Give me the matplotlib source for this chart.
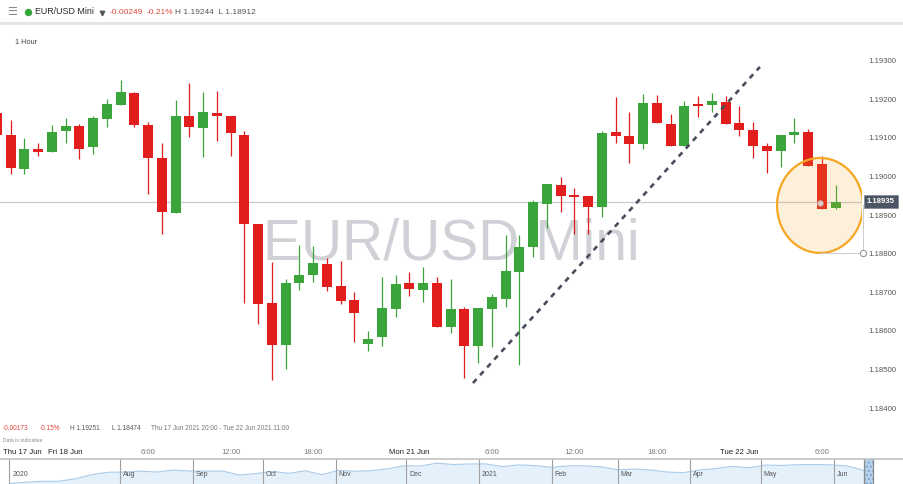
import numpy as np
import pandas as pd
import matplotlib
matplotlib.use("Agg")
import matplotlib.pyplot as plt
import matplotlib.dates as mdates
import matplotlib.transforms as mtransforms
from matplotlib.patches import Ellipse, Rectangle
from matplotlib.lines import Line2D

plt.rcParams['font.family'] = ['Liberation Sans', 'DejaVu Sans']

# hourly candles, index 0 = Thu 17 Jun 2021 20:00 (index -1 is cut at the left edge)
candle_idx = list(range(-1, 61))
opens = [1.19164, 1.19108, 1.19020, 1.19071, 1.19063, 1.19117, 1.19130, 1.19077, 1.19149, 1.19184,
         1.19217, 1.19134, 1.19049, 1.18906, 1.19157, 1.19126, 1.19165, 1.19157, 1.19108, 1.18877,
         1.18672, 1.18563, 1.18723, 1.18745, 1.18773, 1.18716, 1.18680, 1.18566, 1.18585, 1.18658,
         1.18723, 1.18706, 1.18723, 1.18611, 1.18656, 1.18561, 1.18658, 1.18683, 1.18752, 1.18817,
         1.18929, 1.18978, 1.18952, 1.18950, 1.18922, 1.19115, 1.19105, 1.19084, 1.19190, 1.19136,
         1.19079, 1.19186, 1.19185, 1.19194, 1.19138, 1.19120, 1.19080, 1.19066, 1.19108, 1.19116,
         1.19032, 1.18918]
highs = [1.19172, 1.19146, 1.19100, 1.19088, 1.19133, 1.19152, 1.19135, 1.19157, 1.19200, 1.19251,
         1.19220, 1.19141, 1.19088, 1.19198, 1.19241, 1.19220, 1.19222, 1.19157, 1.19119, 1.18877,
         1.18779, 1.18734, 1.18823, 1.18820, 1.18790, 1.18782, 1.18702, 1.18601, 1.18739, 1.18745,
         1.18753, 1.18766, 1.18739, 1.18734, 1.18661, 1.18659, 1.18696, 1.18848, 1.18848, 1.18939,
         1.18981, 1.18998, 1.18969, 1.18950, 1.19118, 1.19207, 1.19168, 1.19214, 1.19211, 1.19162,
         1.19196, 1.19209, 1.19216, 1.19209, 1.19183, 1.19142, 1.19088, 1.19108, 1.19151, 1.19122,
         1.19053, 1.18978]
lows = [1.19100, 1.19006, 1.19006, 1.19053, 1.19063, 1.19088, 1.19045, 1.19058, 1.19129, 1.19184,
        1.19128, 1.18955, 1.18851, 1.18906, 1.19103, 1.19051, 1.19093, 1.19053, 1.18673, 1.18617,
        1.18474, 1.18501, 1.18706, 1.18727, 1.18703, 1.18669, 1.18572, 1.18549, 1.18561, 1.18637,
        1.18690, 1.18676, 1.18611, 1.18595, 1.18477, 1.18518, 1.18559, 1.18663, 1.18512, 1.18791,
        1.18866, 1.18909, 1.18850, 1.18850, 1.18896, 1.19088, 1.19036, 1.19070, 1.19138, 1.19079,
        1.19079, 1.19153, 1.19168, 1.19136, 1.19105, 1.19047, 1.19008, 1.19024, 1.19086, 1.19027,
        1.18915, 1.18915]
closes = [1.19108, 1.19023, 1.19071, 1.19063, 1.19115, 1.19130, 1.19072, 1.19152, 1.19188, 1.19219,
          1.19133, 1.19048, 1.18909, 1.19157, 1.19129, 1.19168, 1.19157, 1.19112, 1.18876, 1.18669,
          1.18563, 1.18723, 1.18744, 1.18775, 1.18715, 1.18678, 1.18646, 1.18578, 1.18659, 1.18722,
          1.18708, 1.18723, 1.18611, 1.18656, 1.18561, 1.18659, 1.18687, 1.18755, 1.18818, 1.18933,
          1.18981, 1.18950, 1.18946, 1.18922, 1.19112, 1.19105, 1.19084, 1.19190, 1.19138, 1.19079,
          1.19183, 1.19183, 1.19196, 1.19136, 1.19120, 1.19079, 1.19066, 1.19108, 1.19116, 1.19027,
          1.18915, 1.18935]
last_price = 1.18935

y_ticks = [1.184, 1.185, 1.186, 1.187, 1.188, 1.189, 1.190, 1.191, 1.192, 1.193]
time_idx = [4, 10, 16, 22, 29, 35, 41, 47, 53, 59]
time_labels = ["Fri 18 Jun", "6:00", "12:00", "18:00", "Mon 21 Jun",
               "6:00", "12:00", "18:00", "Tue 22 Jun", "6:00"]

# drawn annotations
trend_x = [33.62, 54.49]
trend_y = [1.18465, 1.19284]
circle_center = (58.86, 1.18925)
circle_size = (6.25, 0.00246)

# navigator: weekly EUR/USD from 15 Jun 2020
nav_vals = [1.1180, 1.1250, 1.1300, 1.1300, 1.1430, 1.1650, 1.1780, 1.1790, 1.1840, 1.1790,
            1.1900, 1.1840, 1.1840, 1.1840, 1.1630, 1.1710, 1.1830, 1.1720, 1.1860, 1.1650,
            1.1880, 1.1830, 1.1860, 1.1960, 1.2120, 1.2110, 1.2260, 1.2190, 1.2220, 1.2220,
            1.2080, 1.2170, 1.2130, 1.2040, 1.2120, 1.2120, 1.2070, 1.1910, 1.1950, 1.1900,
            1.1790, 1.1760, 1.1900, 1.1980, 1.2090, 1.2020, 1.2160, 1.2140, 1.2180, 1.2190,
            1.2170, 1.2110, 1.1870]
nav_dates = pd.date_range("2020-06-15", periods=len(nav_vals), freq="7D")
nav_month_dates = pd.to_datetime(["2020-06-15", "2020-08-01", "2020-09-01", "2020-10-01",
                                  "2020-11-01", "2020-12-01", "2021-01-01", "2021-02-01",
                                  "2021-03-01", "2021-04-01", "2021-05-01", "2021-06-01"])
nav_month_labels = ["2020", "Aug", "Sep", "Oct", "Nov", "Dec", "2021", "Feb", "Mar", "Apr", "May", "Jun"]

RED = '#e21d1d'
GREEN = '#3aa53a'
W, H = 904, 484


def fx(px):
    return px / W


def fy(py):
    return 1 - py / H


fig = plt.figure(figsize=(W / 100, H / 100), dpi=100)

# ---- main candle chart
ax = fig.add_axes([0, fy(445), 862 / W, (445 - 25) / H])
ax.set_xlim(-0.778, 61.913)
ax.set_ylim(1.183044, 1.193925)
for s in ax.spines.values():
    s.set_visible(False)

ax.text(fx(451), fy(260), "EUR/USD Mini", transform=fig.transFigure, fontsize=41,
        color='#cfd1d6', ha='center', va='baseline', zorder=0)
ax.axhline(last_price, color='#c7ccd3', lw=0.9, zorder=1)

o = np.array(opens)
c = np.array(closes)
colors = [GREEN if cc >= oo else RED for oo, cc in zip(o, c)]
ax.vlines(candle_idx, lows, highs, colors=colors, lw=0.9, zorder=2)
body = np.maximum(np.abs(c - o), 0.00005)
ax.bar(candle_idx, body, bottom=np.minimum(o, c), width=0.73, color=colors, lw=0, zorder=3)

ax.plot(trend_x, trend_y, color='#4a4e5c', lw=1.9, dashes=(2.0, 2.0), dash_capstyle='butt', zorder=4)

ell = Ellipse(circle_center, circle_size[0], circle_size[1], fc=(0.96, 0.65, 0.14, 0.16),
              ec='#f5a623', lw=1.6, zorder=5)
ax.add_patch(ell)
cx, cy = circle_center
right = cx + circle_size[0] / 2
bottom = cy - circle_size[1] / 2
ax.plot([right, right], [last_price - 0.0001, bottom + 0.00006], color='#cccccc', lw=0.7,
        zorder=5, clip_on=False)
ax.plot([cx, right - 0.2], [bottom, bottom], color='#cccccc', lw=0.7, zorder=5, clip_on=False)
ax.plot([right], [bottom], marker='o', ms=4.5, mfc='white', mec='#999999', mew=0.8,
        zorder=6, clip_on=False)
ax.plot([cx], [last_price - 0.00004], marker='o', ms=4, mfc='#e8c9bf', mec='#b0b0b0', mew=0.6,
        zorder=6)

ax.yaxis.tick_right()
ax.set_yticks(y_ticks)
ax.set_yticklabels([f"{v:.5f}" for v in y_ticks])
ax.tick_params(axis='y', length=0, pad=4.3, labelsize=5.6, labelcolor='#555555')
ax.set_xticks(time_idx)
ax.set_xticklabels(time_labels)
ax.tick_params(axis='x', length=0, pad=2.6, labelsize=5.6, labelcolor='#7a7a7a')
for lab in ax.get_xticklabels():
    if "Jun" in lab.get_text():
        lab.set_color('#222222')

trans = mtransforms.blended_transform_factory(fig.transFigure, ax.transData)
ax.text(fx(867), last_price, f"{last_price:.5f}", transform=trans, fontsize=5.6, color='white',
        fontweight='bold', ha='left', va='center', zorder=7, clip_on=False,
        bbox=dict(boxstyle='square,pad=0.4', fc='#4c5563', ec='#7d8796', lw=0.5))

# ---- header
fig.add_artist(Line2D([0, 1], [fy(23), fy(23)], color='#e4e4e4', lw=2, transform=fig.transFigure))
fig.text(fx(7), fy(12), "\u2630", family=['DejaVu Sans'], fontsize=8, color='#8a8a8a', va='center')
fig.add_artist(Line2D([fx(28)], [fy(12)], marker='o', ms=4.3, color='#35a83a', lw=0,
                      transform=fig.transFigure))
fig.text(fx(35), fy(12), "EUR/USD Mini", fontsize=6.4, color='#2a2a2a', va='center')
fig.add_artist(Line2D([fx(102)], [fy(12.5)], marker='v', ms=3.2, color='#555555', lw=0,
                      transform=fig.transFigure))
fig.text(fx(110), fy(12), "-0.00249", fontsize=6.0, color='#e0473c', va='center')
fig.text(fx(147), fy(12), "-0.21%", fontsize=6.0, color='#e0473c', va='center')
fig.text(fx(175), fy(12), "H 1.19244  L 1.18912", fontsize=6.0, color='#555555', va='center')
fig.text(fx(15), fy(42), "1 Hour", fontsize=5.3, color='#444444', va='center')

# ---- footer info
fig.text(fx(3), fy(429), "-0.00173", fontsize=4.7, color='#e0473c', va='center')
fig.text(fx(40), fy(429), "-0.15%", fontsize=4.7, color='#e0473c', va='center')
fig.text(fx(70), fy(429), "H 1.19251", fontsize=4.7, color='#555555', va='center')
fig.text(fx(112), fy(429), "L 1.18474", fontsize=4.7, color='#555555', va='center')
fig.text(fx(151), fy(429), "Thu 17 Jun 2021 20:00 - Tue 22 Jun 2021 11:00", fontsize=4.7,
         color='#777777', va='center')
fig.text(fx(3), fy(441), "Data is indicative", fontsize=3.7, color='#888888', va='center')
fig.text(fx(3), fy(452.5), "Thu 17 Jun", fontsize=5.6, color='#222222', va='center')

# ---- navigator
nav = fig.add_axes([0, 0, 1, 25 / H])
nav.set_xlim(pd.Timestamp("2020-06-11"), pd.Timestamp("2021-07-01"))
nav.set_ylim(1.1156, 1.2483)
nav.axis('off')
nav.fill_between(nav_dates, nav_vals, 1.1156, color='#e4f0fa', lw=0)
nav.plot(nav_dates, nav_vals, color='#a9cbe9', lw=0.8)
sel_start = mdates.date2num(pd.Timestamp("2021-06-14"))
sel_end = mdates.date2num(pd.Timestamp("2021-06-18"))
nav.add_patch(Rectangle((sel_start, 1.1156), sel_end - sel_start, 1.2483 - 1.1156,
                        fc='#b7d2ec', ec='#7fa6cf', lw=0.6, hatch='....'))
for d in [sel_start, sel_end]:
    nav.axvline(d, color='#8c8c8c', lw=0.9)
for d, lab in zip(nav_month_dates, nav_month_labels):
    nav.axvline(d, color='#a0a0a0', lw=0.8)
    nav.text(d + pd.Timedelta(days=1.3), 0.36, lab, transform=nav.get_xaxis_transform(),
             fontsize=5.0, color='#555555', va='center')
nav.axhline(1.2483, color='#c4c4c4', lw=1.2, clip_on=False)

fig.savefig("out.png", dpi=100)
